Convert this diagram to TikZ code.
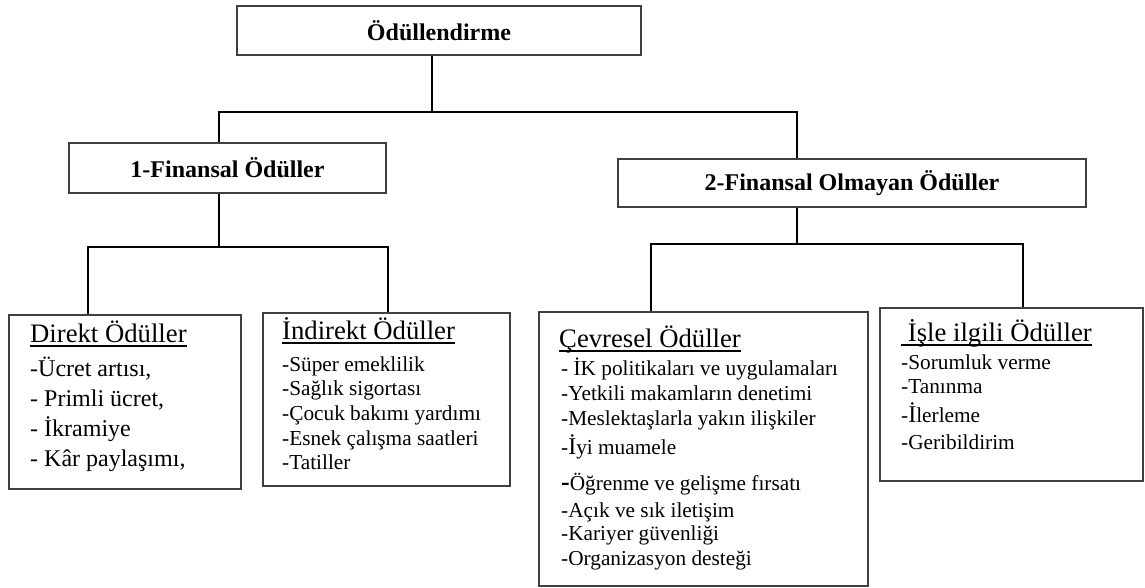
\documentclass[tikz,border=0pt]{standalone}
\usepackage{fontspec}
\setmainfont{Liberation Serif}
% underline with a fixed drop below the baseline and a heavier rule
\newcommand\headrule[1]{\setbox0\hbox{#1}\rlap{\rule[-4.5pt]{\wd0}{1.3pt}}\box0}
\begin{document}
\begin{tikzpicture}[x=1pt,y=-1pt,
  box/.style={draw=black!75, line width=1.1pt, fill=white, inner sep=0pt},
  conn/.style={line width=1.7pt, black},
  title/.style={font=\fontsize{24}{28}\selectfont\bfseries},
  head/.style={font=\fontsize{26.7}{30}\selectfont, anchor=base west, inner sep=0pt},
  item/.style={font=\fontsize{21.3}{24}\selectfont, anchor=base west, inner sep=0pt},
  bigitem/.style={font=\fontsize{24}{28}\selectfont, anchor=base west, inner sep=0pt},
]
\useasboundingbox (0,0) rectangle (1145,588);

% boxes of the hierarchy
\node[box, title, minimum width=404pt, minimum height=49pt] (root) at (439,30.5) {Ödüllendirme};
\node[box, title, minimum width=317pt, minimum height=50pt] (fin1) at (227.5,168) {1-Finansal Ödüller};
\node[box, title, minimum width=468pt, minimum height=48pt] (fin2) at (852,183) {2-Finansal Olmayan Ödüller};
\node[box, minimum width=232pt, minimum height=174pt] (direkt) at (125,402) {};
\node[box, minimum width=247pt, minimum height=173pt] (indirekt) at (386.5,399.5) {};
\node[box, minimum width=329pt, minimum height=274pt] (cevre) at (703.5,449) {};
\node[box, minimum width=263pt, minimum height=173pt] (isle) at (1011.5,394.5) {};

% junction points of the connectors
\coordinate (j0) at (432,112);
\coordinate (jL) at (219,112);
\coordinate (jR) at (797,112);
\coordinate (k0) at (219,247);
\coordinate (k1) at (88,247);
\coordinate (k2) at (388,247);
\coordinate (m0) at (797,244);
\coordinate (m1) at (651,244);
\coordinate (m2) at (1023,244);

\draw[conn] (root.south -| j0) -- (j0);
\draw[conn] (fin1.north -| jL) -- (jL) -- (jR) -- (fin2.north -| jR);
\draw[conn] (fin1.south -| k0) -- (k0);
\draw[conn] (direkt.north -| k1) -- (k1) -- (k2) -- (indirekt.north -| k2);
\draw[conn] (fin2.south -| m0) -- (m0);
\draw[conn] (cevre.north -| m1) -- (m1) -- (m2) -- (isle.north -| m2);

% direct rewards
\node[head] (dh) at (30,342) {\headrule{Direkt Ödüller}};
\node[bigitem] (d1) at (30,376) {-Ücret artısı,};
\node[bigitem] (d2) at (30,406) {- Primli ücret,};
\node[bigitem] (d3) at (30,436) {- İkramiye};
\node[bigitem] (d4) at (30,466) {- Kâr paylaşımı,};

% indirect rewards
\node[head] (ih) at (282,339) {\headrule{İndirekt Ödüller}};
\node[item] (i1) at (282,371) {-Süper emeklilik};
\node[item] (i2) at (282,395) {-Sağlık sigortası};
\node[item] (i3) at (282,420) {-Çocuk bakımı yardımı};
\node[item] (i4) at (282,445) {-Esnek çalışma saatleri};
\node[item] (i5) at (282,469) {-Tatiller};

% environmental rewards
\node[head] (ch) at (559,347) {\headrule{Çevresel Ödüller}};
\node[item] (c1) at (561,375) {- İK politikaları ve uygulamaları};
\node[item] (c2) at (561,400) {-Yetkili makamların denetimi};
\node[item] (c3) at (561,425) {-Meslektaşlarla yakın ilişkiler};
\node[item] (c4) at (561,454) {-{\fontsize{24}{28}\selectfont İ}yi muamele};
\node[item] (c5) at (561,490) {{\fontsize{26}{28}\selectfont\bfseries -}Öğrenme ve gelişme fırsatı};
\node[item] (c6) at (561,517) {-Açık ve sık iletişim};
\node[item] (c7) at (561,540) {-Kariyer güvenliği};
\node[item] (c8) at (561,565) {-Organizasyon desteği};

% job related rewards
\node[head] (wh) at (901,341) {\headrule{\ İşle ilgili Ödüller}};
\node[item] (w1) at (901,369) {-Sorumluk verme};
\node[item] (w2) at (901,393) {-Tanınma};
\node[item] (w3) at (901,422) {-{\fontsize{24}{28}\selectfont İ}lerleme};
\node[item] (w4) at (901,449) {-Geribildirim};
\end{tikzpicture}
\end{document}
